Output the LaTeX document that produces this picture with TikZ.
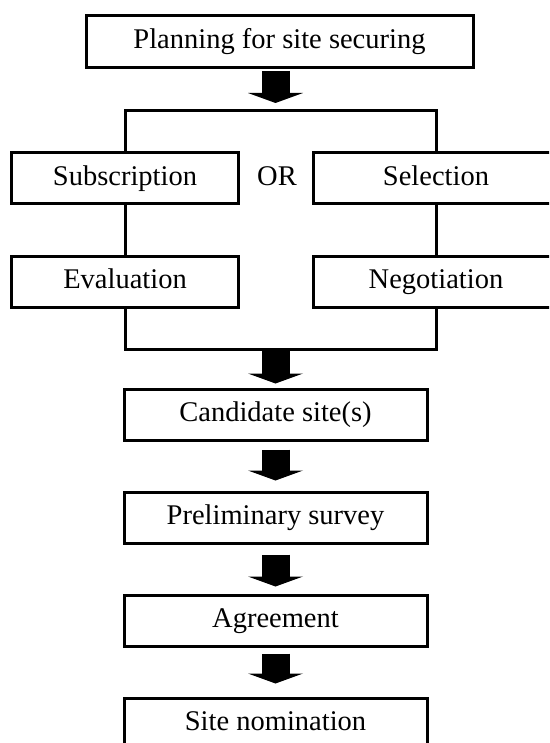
\documentclass[tikz,border=0pt]{standalone}
\usepackage{fontspec}
\setmainfont{Liberation Serif}
\usetikzlibrary{arrows.meta,calc}

\begin{document}
\begin{tikzpicture}[x=1pt,y=-1pt,
  every node/.style={font=\fontsize{28.5}{34}\selectfont, inner sep=0pt,
    text height=20pt, text depth=6pt},
  stepbox/.style={draw, line width=3pt, fill=white, minimum height=51pt},
  wire/.style={line width=3pt},
  fat/.style={line width=28pt, -{Triangle[width=55pt,length=10pt,line width=0pt]}}]

  \useasboundingbox (0,0) rectangle (549,743);
  \clip (0,0) rectangle (549,743);

  % bracket corners
  \coordinate (brtop) at (276,111);
  \coordinate (brbot) at (276,349);

  % main column
  \node[stepbox, minimum width=387pt, minimum height=52pt] (plan) at (279.5,42) {Planning for site securing};
  \node[stepbox, minimum width=303pt] (cand) at (275.5,414.5) {Candidate site(s)};
  \node[stepbox, minimum width=303pt] (prel) at (275.5,517.5) {Preliminary survey};
  \node[stepbox, minimum width=303pt] (agr)  at (275.5,620.5) {Agreement};
  \node[stepbox, minimum width=303pt] (nom)  at (275.5,723.5) {Site nomination};

  % alternative branches
  \node[stepbox, minimum width=227pt] (sub) at (125,178.5) {Subscription};
  \node[stepbox, minimum width=227pt] (eva) at (125,281.5) {Evaluation};
  \node[stepbox, minimum width=246pt] (sel) at (436,178.5) {Selection};
  \node[stepbox, minimum width=246pt] (neg) at (436,281.5) {Negotiation};
  \node (or) at (277,178.5) {OR};

  % bracket lines joining the branches
  \draw[wire] (sub.north) |- (brtop) -| (sel.north);
  \draw[wire] (sub.south) -- (eva.north);
  \draw[wire] (sel.south) -- (neg.north);
  \draw[wire] (eva.south) |- (brbot) -| (neg.south);

  % block arrows
  \draw[fat] ([yshift=-1.5pt]plan.south -| cand.south) -- ([yshift=8pt]brtop -| cand.south);
  \draw[fat] (brbot -| cand.north) -- ([yshift=4pt]cand.north);
  \draw[fat] ([yshift=-8pt]cand.south) -- ([yshift=10pt]prel.north);
  \draw[fat] ([yshift=-10pt]prel.south) -- ([yshift=7pt]agr.north);
  \draw[fat] ([yshift=-6pt]agr.south) -- ([yshift=13pt]nom.north);
\end{tikzpicture}
\end{document}
